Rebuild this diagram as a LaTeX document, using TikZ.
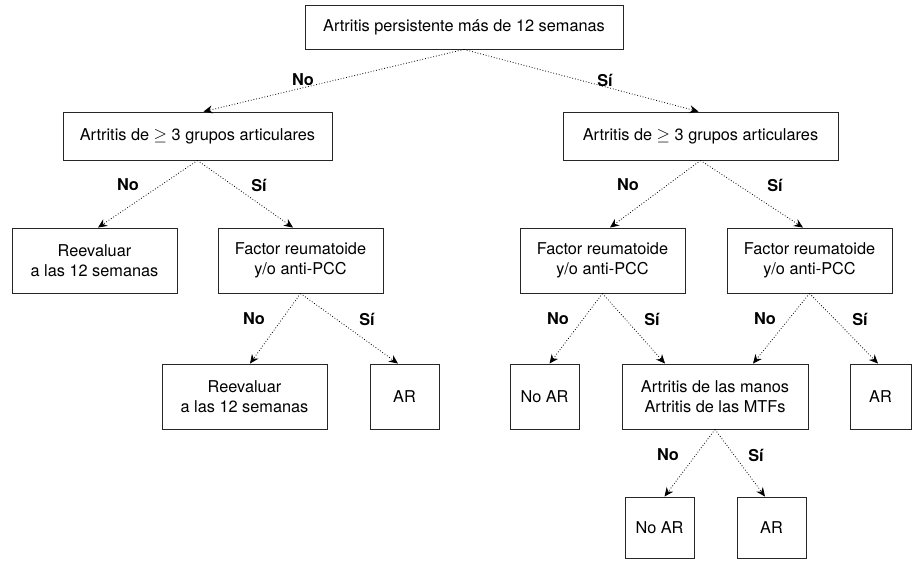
\documentclass[tikz,border=0pt]{standalone}
\usepackage{fontspec}
\setmainfont{TeX Gyre Heros}
\usetikzlibrary{arrows.meta,positioning}

\begin{document}
\begin{tikzpicture}[x=1pt,y=-1pt,
font=\fontsize{16.3}{20}\selectfont,
caja/.style={draw=black!85,line width=0.9pt,align=center,inner sep=0pt,minimum height=65},
rama/.style={-{Stealth[length=9pt,width=8pt]},dotted,line width=0.8pt},
resp/.style={font=\fontsize{16.3}{20}\selectfont\bfseries}]
    \useasboundingbox (0,0) rectangle (912,562);

    % Nivel 1 y 2
    \node[caja,minimum width=318,minimum height=44] (inicio) at (464,27) {Artritis persistente más de 12 semanas};
    \node[caja,minimum width=269,minimum height=48] (grupL) at (197.5,136) {Artritis de \ensuremath{\geq} 3 grupos articulares};
    \node[caja,minimum width=275,minimum height=48] (grupR) at (700.5,136) {Artritis de \ensuremath{\geq} 3 grupos articulares};

    % Nivel 3
    \node[caja,minimum width=165] (reev1) at (94.5,260.5) {Reevaluar\\a las 12 semanas};
    \node[caja,minimum width=165] (frL) at (300.5,260.5) {Factor reumatoide\\y/o anti-PCC};
    \node[caja,minimum width=165] (frM) at (602.5,260.5) {Factor reumatoide\\y/o anti-PCC};
    \node[caja,minimum width=165] (frR) at (809.5,260.5) {Factor reumatoide\\y/o anti-PCC};

    % Nivel 4
    \node[caja,minimum width=165] (reev2) at (244.5,396.5) {Reevaluar\\a las 12 semanas};
    \node[caja,minimum width=69] (arL) at (404.5,396.5) {AR};
    \node[caja,minimum width=69] (noarM) at (544.5,396.5) {No AR};
    \node[caja,minimum width=186] (manos) at (715,396.5) {Artritis de las manos\\Artritis de las MTFs};
    \node[caja,minimum width=61] (arR) at (880.5,396.5) {AR};

    % Nivel 5
    \node[caja,minimum width=69,minimum height=61] (noarB) at (659.5,527.5) {No AR};
    \node[caja,minimum width=69,minimum height=61] (arB) at (771.5,527.5) {AR};

    % Ramas
    \draw[rama] (inicio.south) -- ([xshift=6]grupL.north);
    \draw[rama] (inicio.south) -- ([xshift=-2]grupR.north);
    \draw[rama] (grupL.south) -- ([xshift=3.5]reev1.north);
    \draw[rama] (grupL.south) -- ([xshift=-7.5]frL.north);
    \draw[rama] (frL.south) -- ([xshift=5.5]reev2.north);
    \draw[rama] (frL.south) -- ([xshift=-6.5]arL.north);
    \draw[rama] (grupR.south) -- ([xshift=7.5]frM.north);
    \draw[rama] (grupR.south) -- ([xshift=-6.5]frR.north);
    \draw[rama] (frM.south) -- ([xshift=5]noarM.north);
    \draw[rama] (frM.south) -- ([xshift=-50]manos.north);
    \draw[rama] (frR.south) -- ([xshift=38]manos.north);
    \draw[rama] (frR.south) -- ([xshift=-2.5]arR.north);
    \draw[rama] (manos.south) -- ([xshift=5]noarB.north);
    \draw[rama] (manos.south) -- ([xshift=-6.5]arB.north);

    % Respuestas
    \node[resp] (no1) at (303,80) {No};
    \node[resp] (si1) at (605,80) {Sí};
    \node[resp] (no2) at (128,185) {No};
    \node[resp] (si2) at (259,185) {Sí};
    \node[resp] (no3) at (628,185) {No};
    \node[resp] (si3) at (775,185) {Sí};
    \node[resp] (no4) at (254,319) {No};
    \node[resp] (si4) at (367,319) {Sí};
    \node[resp] (no5) at (558,319) {No};
    \node[resp] (si5) at (652,319) {Sí};
    \node[resp] (no6) at (765,319) {No};
    \node[resp] (si6) at (860,319) {Sí};
    \node[resp] (no7) at (668,455) {No};
    \node[resp] (si7) at (756,455) {Sí};
\end{tikzpicture}
\end{document}
